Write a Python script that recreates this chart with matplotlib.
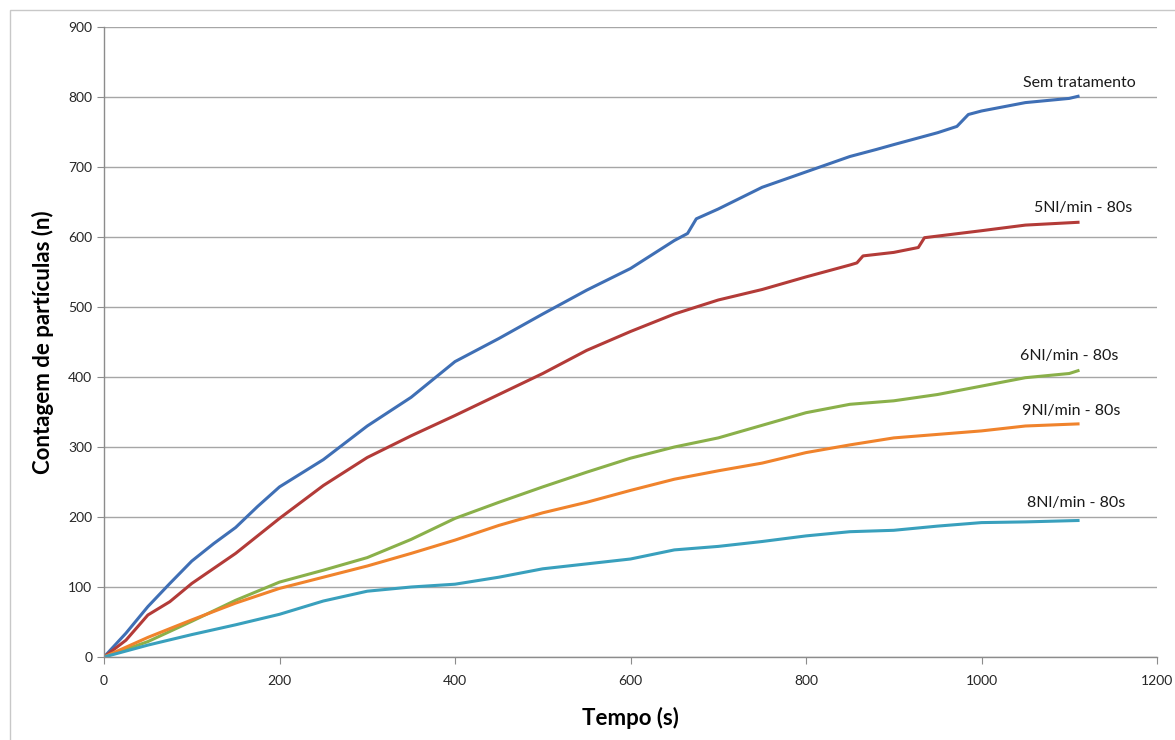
import matplotlib.pyplot as plt
from matplotlib.patches import Rectangle

# Dados (tempo em s, contagem acumulada)
t_sem = [0, 25, 50, 75, 100, 125, 150, 175, 200, 250, 300, 350, 400, 450, 500, 550, 600,
         650, 665, 675, 700, 750, 800, 850, 880, 900, 950, 972, 985, 1000, 1050, 1100, 1110]
y_sem = [0, 34, 72, 105, 137, 162, 185, 215, 243, 282, 330, 371, 422, 455, 490, 524, 555,
         595, 605, 626, 640, 671, 693, 715, 725, 732, 749, 758, 775, 780, 792, 798, 801]

t_5nl = [0, 25, 50, 75, 100, 150, 200, 250, 300, 350, 400, 450, 500, 550, 600,
         650, 700, 750, 800, 850, 858, 865, 900, 928, 935, 1000, 1050, 1110]
y_5nl = [0, 24, 60, 79, 105, 148, 198, 245, 285, 316, 345, 375, 405, 438, 465,
         490, 510, 525, 543, 560, 563, 573, 578, 585, 599, 609, 617, 621]

t_6nl = [0, 50, 100, 150, 200, 250, 300, 350, 400, 450, 500, 550, 600, 650,
         700, 750, 800, 850, 900, 950, 1000, 1050, 1100, 1110]
y_6nl = [0, 22, 51, 81, 107, 124, 142, 168, 198, 221, 243, 264, 284, 300,
         313, 331, 349, 361, 366, 375, 387, 399, 405, 409]

t_9nl = [0, 50, 100, 150, 200, 250, 300, 350, 400, 450, 500, 550, 600, 650,
         700, 750, 800, 850, 900, 950, 1000, 1050, 1110]
y_9nl = [0, 28, 53, 77, 98, 114, 130, 148, 167, 188, 206, 221, 238, 254,
         266, 277, 292, 303, 313, 318, 323, 330, 333]

t_8nl = [0, 50, 100, 150, 200, 250, 300, 350, 400, 450, 500, 550, 600, 650,
         700, 750, 800, 850, 900, 950, 1000, 1050, 1110]
y_8nl = [0, 17, 32, 46, 61, 80, 94, 100, 104, 114, 126, 133, 140, 153,
         158, 165, 173, 179, 181, 187, 192, 193, 195]

series = [
    (t_sem, y_sem, "#3f6fb5", "Sem tratamento", 1112, 820),
    (t_5nl, y_5nl, "#b33b38", "5Nl/min - 80s", 1116, 641),
    (t_6nl, y_6nl, "#8ab04a", "6Nl/min - 80s", 1100, 430),
    (t_9nl, y_9nl, "#f0832c", "9Nl/min - 80s", 1102, 351),
    (t_8nl, y_8nl, "#39a0bd", "8Nl/min - 80s", 1108, 220),
]

plt.rcParams["font.family"] = ["Lato", "DejaVu Sans"]

fig = plt.figure(figsize=(11.75, 7.4), dpi=100)
ax = fig.add_axes([104 / 1175, 83 / 740, 1053 / 1175, 630 / 740])

# moldura do gráfico (estilo Excel)
fig.patches.append(Rectangle((10 / 1175, -0.1), 1.2, 730 / 740 + 0.1,
                             transform=fig.transFigure, fill=False,
                             edgecolor="#c8c8c8", linewidth=1))

for t, y, cor, nome, lx, ly in series:
    ax.plot(t, y, color=cor, linewidth=2.2, solid_joinstyle="round")
    ax.text(lx, ly, nome, ha="center", va="center", fontsize=11.5, color="#1a1a1a")

ax.set_xlim(0, 1200)
ax.set_ylim(0, 900)
ax.set_xticks(range(0, 1201, 200))
ax.set_yticks(range(0, 901, 100))
ax.grid(axis="y", color="#a6a6a6", linewidth=1)
ax.set_axisbelow(True)

for lado in ["top", "right"]:
    ax.spines[lado].set_visible(False)
for lado in ["left", "bottom"]:
    ax.spines[lado].set_color("#8c8c8c")
    ax.spines[lado].set_linewidth(1)

ax.tick_params(axis="both", colors="#8c8c8c", labelcolor="#262626",
               labelsize=10, length=5, direction="out")
ax.tick_params(axis="x", pad=8)

ax.set_xlabel("Tempo (s)", fontsize=16, fontweight="bold", labelpad=14)
ax.set_ylabel("Contagem de partículas (n)", fontsize=16, fontweight="bold", labelpad=10)

fig.savefig("out.png", dpi=100)
